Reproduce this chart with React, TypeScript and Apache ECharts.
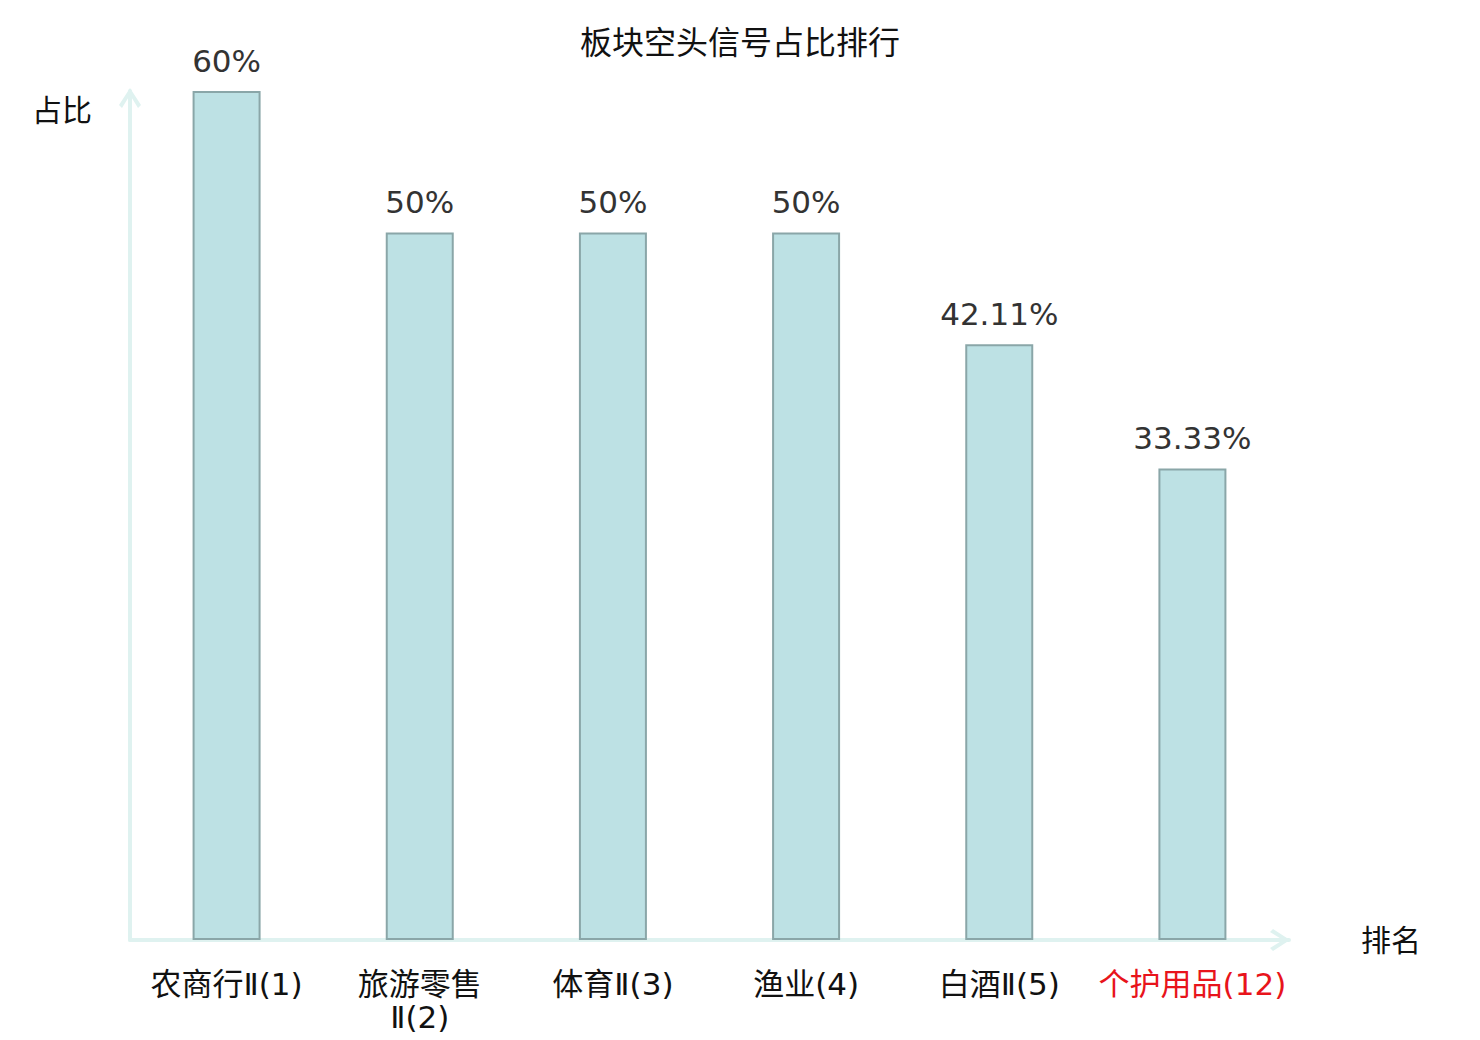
import React, { useEffect, useRef } from "react";
import * as echarts from "echarts";

const titleText = "板块空头信号占比排行";
const categories = ["农商行Ⅱ(1)", "旅游零售\nⅡ(2)", "体育Ⅱ(3)", "渔业(4)", "白酒Ⅱ(5)", "个护用品(12)"];
const values = [60, 50, 50, 50, 42.11, 33.33];
const highlightIndex = [5];
const yName = "占比";
const xName = "排名";

const chevron = "path://M11,0 L22,17 L19,20 L11,7 L3,20 L0,17 Z";
const FONT = "'DejaVu Sans', 'Noto Sans CJK SC', sans-serif";

export default function App() {
  const ref = useRef<HTMLDivElement>(null);
  useEffect(() => {
    if (!ref.current) return;
    const chart = echarts.init(ref.current, undefined, { renderer: "svg" });
    const axisColor = "#dff2f0";
    chart.setOption({
      animation: false,
      backgroundColor: "#ffffff",
      textStyle: { fontFamily: FONT },
      title: {
        text: titleText,
        left: "center",
        top: 22,
        textStyle: { fontSize: 32, fontWeight: "normal", color: "#111", fontFamily: FONT },
      },
      grid: { left: 130, right: 191, top: 91, bottom: 100, containLabel: false },
      xAxis: {
        type: "category",
        data: categories,
        name: xName,
        nameLocation: "end",
        nameGap: 72,
        nameTextStyle: { fontSize: 30, color: "#111", fontFamily: FONT },
        axisLine: {
          show: true,
          symbol: ["none", chevron],
          symbolSize: [22, 20],
          symbolOffset: [0, -9],
          lineStyle: { color: axisColor, width: 4 },
        },
        axisTick: { show: false },
        axisLabel: {
          interval: 0,
          margin: 27,
          fontSize: 31,
          lineHeight: 33,
          fontFamily: FONT,
          color: (_v: any, i: number) => (highlightIndex.includes(i) ? "#e8141b" : "#111"),
        },
        splitLine: { show: false },
      },
      yAxis: {
        type: "value",
        min: 0,
        max: 60,
        name: yName,
        nameLocation: "end",
        nameGap: -19,
        nameTextStyle: {
          fontSize: 30,
          color: "#111",
          fontFamily: FONT,
          align: "right",
          verticalAlign: "middle",
          padding: [0, 38, 0, 0],
        },
        axisLine: {
          show: true,
          symbol: ["none", chevron],
          symbolSize: [22, 20],
          symbolOffset: [0, -7],
          lineStyle: { color: axisColor, width: 4 },
        },
        axisTick: { show: false },
        axisLabel: { show: false },
        splitLine: { show: false },
      },
      series: [
        {
          type: "bar",
          data: values,
          barWidth: 68,
          itemStyle: { color: "#bde1e4", borderColor: "#8aa6a8", borderWidth: 2 },
          label: {
            show: true,
            position: "top",
            distance: 15,
            formatter: "{c}%",
            fontSize: 31,
            color: "#333",
            fontFamily: FONT,
          },
        },
      ],
    });
    return () => chart.dispose();
  }, []);
  return (
    <div
      ref={ref}
      style={{ position: "absolute", left: 0, top: 0, width: 1480, height: 1040 }}
    />
  );
}
